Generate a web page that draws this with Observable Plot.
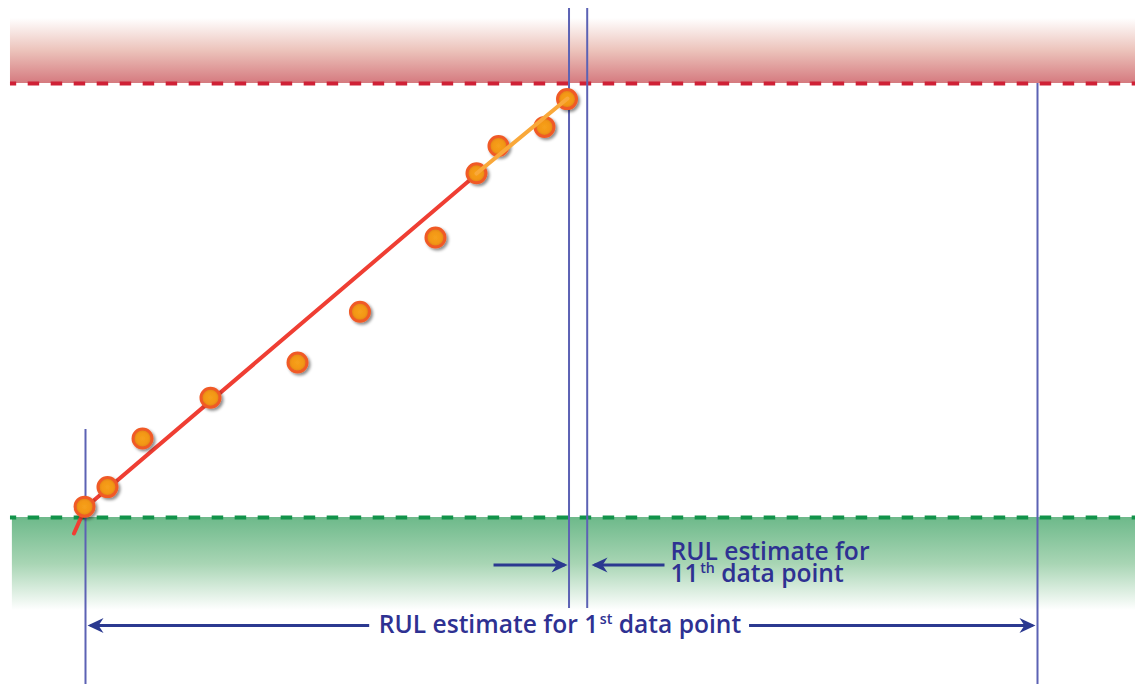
<!DOCTYPE html>
<html>
<head>
<meta charset="utf-8">
<script src="https://cdn.jsdelivr.net/npm/d3@7"></script>
<script src="https://cdn.jsdelivr.net/npm/@observablehq/plot@0.6"></script>
<style>
  html, body { margin: 0; padding: 0; background: #ffffff; }
  #chart svg { display: block; }
</style>
</head>
<body>
<svg width="0" height="0" style="position:absolute">
  <defs>
    <linearGradient id="gRed" x1="0" y1="0" x2="0" y2="1">
      <stop offset="0" stop-color="#ffffff"/>
      <stop offset="0.5" stop-color="#ecc3bb"/>
      <stop offset="1" stop-color="#d57a7f"/>
    </linearGradient>
    <linearGradient id="gGreen" x1="0" y1="0" x2="0" y2="1">
      <stop offset="0" stop-color="#6db98a"/>
      <stop offset="0.5" stop-color="#a8d5b4"/>
      <stop offset="1" stop-color="#ffffff"/>
    </linearGradient>
    <radialGradient id="gDot" cx="50%" cy="50%" r="55%">
      <stop offset="0" stop-color="#f6a11b"/>
      <stop offset="0.55" stop-color="#f39717"/>
      <stop offset="1" stop-color="#d67a0e"/>
    </radialGradient>
    <filter id="fShadow" x="-60%" y="-60%" width="220%" height="220%">
      <feDropShadow dx="2" dy="2" stdDeviation="1.4" flood-color="#000000" flood-opacity="0.45"/>
    </filter>
  </defs>
</svg>
<div id="chart"></div>
<script>
// ---- data (time t, degradation level v; 0 = healthy threshold, 100 = failure threshold)
const pointT = [-0.1, 2.31, 5.99, 13.13, 22.27, 28.83, 36.76, 41.07, 43.38, 48.21, 50.58];
const pointV = [2.5, 7.0, 18.2, 27.6, 35.7, 47.4, 64.5, 79.3, 85.6, 90.0, 96.4];

// trend fitted on the first data points (red) and on the latest ones (orange)
const fitFirstT = [-1.21, 0, 41.18];
const fitFirstV = [-3.69, 2.3, 79.26];
const fitLastT = [41.07, 50.63];
const fitLastV = [79.26, 96.54];

const failureLevel = 100;
const healthyLevel = 0;
const failureBandTop = 114.98;
const healthyBandBottom = -21.43;
const bandStart = -7.88;
const bandEnd = 110.3;

// vertical markers: first point, 11th point, failure for 11th, failure for 1st
const markerT = [0, 50.79, 52.7, 100];
const markerTop = [20.3, 117.3, 117.3, 100];
const markerBottom = [-38.5, -20.97, -20.97, -38.5];

// RUL arrows
const arrowTail = [29.8, 69.7, 42.86, 60.82];
const arrowTip = [0.53, 99.47, 50.32, 53.47];
const arrowLevel = [-24.9, -24.9, -10.95, -10.95];
const arrowDir = [180, 0, 0, 180];

// labels
const bottomLabel = "RUL estimate for 1st data point";
const sideLabel = "RUL estimate for\n11th data point";
const bottomLabelT = 49.84, bottomLabelV = -26.7;
const sideLabelT = 61.45, sideLabelV = -14.86;

// ---- tables
const points = pointT.map((t, i) => ({t, v: pointV[i]}));
const fitFirst = fitFirstT.map((t, i) => ({t, v: fitFirstV[i]}));
const fitLast = fitLastT.map((t, i) => ({t, v: fitLastV[i]}));
const markers = markerT.map((t, i) => ({t, top: markerTop[i], bottom: markerBottom[i]}));
const arrows = arrowTail.map((a, i) => ({a, b: arrowTip[i], v: arrowLevel[i], rot: arrowDir[i]}));

const stealth = {
  draw(ctx) {
    ctx.moveTo(3, 0);
    ctx.lineTo(-13, -7.5);
    ctx.lineTo(-8, 0);
    ctx.lineTo(-13, 7.5);
    ctx.closePath();
  }
};

const navy = "#2b3990";
const lineBlue = "#5c62b4";
const textBlue = "#2e3192";

const chart = Plot.plot({
  width: 1135,
  height: 684,
  margin: 0,
  x: {domain: [-8.9286, 110.294], axis: null},
  y: {domain: [-38.480, 119.124], axis: null},
  style: {background: "#ffffff", fontFamily: "'Open Sans', sans-serif"},
  marks: [
    Plot.rect([{a: bandStart, b: bandEnd, lo: failureLevel, hi: failureBandTop}],
      {x1: "a", x2: "b", y1: "lo", y2: "hi", fill: "url(#gRed)"}),
    Plot.rect([{a: bandStart + 0.2, b: bandEnd, lo: healthyBandBottom, hi: healthyLevel}],
      {x1: "a", x2: "b", y1: "lo", y2: "hi", fill: "url(#gGreen)"}),
    Plot.ruleY([{v: failureLevel, a: bandStart, b: bandEnd}],
      {y: "v", x1: "a", x2: "b", stroke: "#cf2136", strokeWidth: 4, strokeDasharray: "11.5,11.5", strokeDashoffset: 5.3}),
    Plot.ruleY([{v: healthyLevel, a: bandStart, b: bandEnd}],
      {y: "v", x1: "a", x2: "b", stroke: "#12934a", strokeWidth: 4, strokeDasharray: "11.5,11.5", strokeDashoffset: 5.3}),
    Plot.ruleX(markers, {x: "t", y1: "bottom", y2: "top", stroke: lineBlue, strokeWidth: 2}),
    Plot.line(fitFirst, {x: "t", y: "v", stroke: "#ef3e33", strokeWidth: 4, curve: "linear"}),
    Plot.dot(points, {x: "t", y: "v", r: 9.5, fill: "url(#gDot)", stroke: "#f05a28", strokeWidth: 3}),
    Plot.line(fitLast, {x: "t", y: "v", stroke: "#f9a83a", strokeWidth: 4}),
    Plot.link(arrows, {x1: "a", x2: "b", y1: "v", y2: "v", stroke: navy, strokeWidth: 3}),
    Plot.dot(arrows, {x: "b", y: "v", symbol: stealth, rotate: "rot", r: 5, fill: navy, stroke: "none"}),
    Plot.text([bottomLabel], {x: () => bottomLabelT, y: () => bottomLabelV, text: d => d, textAnchor: "middle",
      fontSize: 24.6, lineAnchor: "bottom", fill: textBlue, fontWeight: 600}),
    Plot.text([sideLabel], {x: () => sideLabelT, y: () => sideLabelV, text: d => d, textAnchor: "start",
      fontSize: 24.6, lineAnchor: "bottom", lineHeight: 0.894, fill: textBlue, fontWeight: 600})
  ]
});

// drop shadow on the data points (the dot mark drawn with circles)
chart.querySelectorAll('g[aria-label="dot"]').forEach(g => {
  if (g.querySelector("circle")) g.setAttribute("filter", "url(#fShadow)");
});

// superscript ordinal suffixes
const ns = "http://www.w3.org/2000/svg";
function superscriptOrdinals(el) {
  const s = el.textContent;
  const m = s.match(/^(.*?\d)(st|nd|rd|th)(\b.*)$/);
  if (!m) return;
  while (el.firstChild) el.removeChild(el.firstChild);
  const a = document.createElementNS(ns, "tspan"); a.textContent = m[1];
  const b = document.createElementNS(ns, "tspan"); b.textContent = m[2];
  b.setAttribute("font-size", "58%"); b.setAttribute("baseline-shift", "62%"); b.setAttribute("dx", "1.5");
  const c = document.createElementNS(ns, "tspan"); c.textContent = m[3];
  el.append(a, b, c);
}
chart.querySelectorAll('g[aria-label="text"] text').forEach(el => {
  const lines = el.querySelectorAll(":scope > tspan");
  if (lines.length) lines.forEach(superscriptOrdinals);
  else superscriptOrdinals(el);
});

document.getElementById("chart").append(chart);
</script>
</body>
</html>
